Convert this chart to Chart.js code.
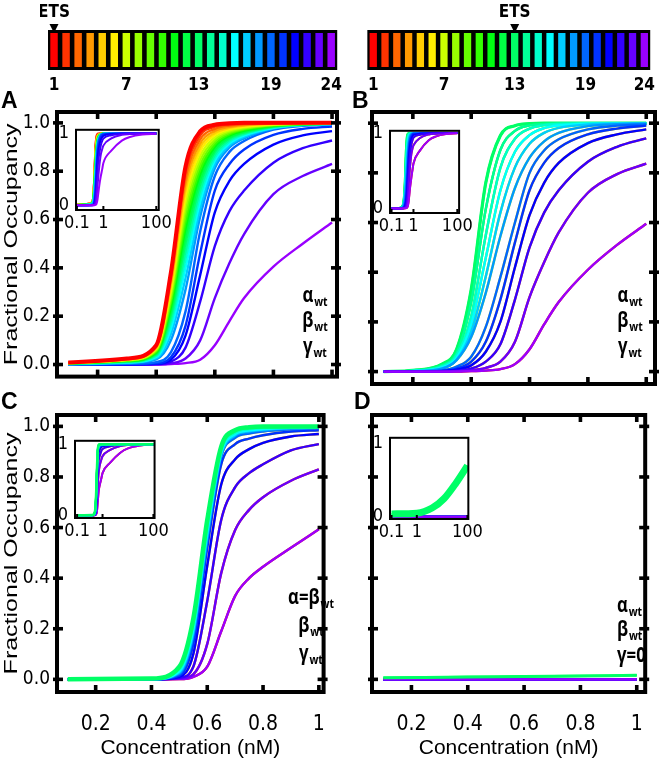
<!DOCTYPE html>
<html>
<head>
<meta charset="utf-8">
<script src="https://cdn.jsdelivr.net/npm/chart.js@4.4.1/dist/chart.umd.min.js"></script>
<style>
html,body{margin:0;padding:0;background:#ffffff;}
body{position:relative;width:663px;height:766px;overflow:hidden;}
canvas{position:absolute;display:block;}
</style>
</head>
<body>
<canvas id="mA"></canvas><canvas id="mB"></canvas><canvas id="mC"></canvas><canvas id="mD"></canvas>
<canvas id="cbA"></canvas><canvas id="cbB"></canvas>
<canvas id="iA"></canvas><canvas id="iB"></canvas><canvas id="iC"></canvas><canvas id="iD"></canvas>
<script>
// ---------------- data ----------------
const SITE_LABELS = ['1','2','3','4','5','6','7','8','9','10','11','12','13','14','15','16','17','18','19','20','21','22','23','24'];
const COLORS = ['#ff0000','#ff3300','#ff6600','#ff9900','#ffcc00','#ffee00','#ccff00','#99ff00','#66ff00','#33ff00','#00ff11','#00ff44','#00ff66','#00ff99','#00ffcc','#00ffff','#00ccff','#0099ff','#0066ff','#0033ff','#0000ff','#3300ff','#6600ff','#9900ff'];
const BAR_HEIGHTS = [1,1,1,1,1,1,1,1,1,1,1,1,1,1,1,1,1,1,1,1,1,1,1,1];
const BAR_TICK_LABELS = ['1','7','13','19','24'];
const ETS_A = 1;
const ETS_B = 13;

const Y_TICKS = [0, 0.2, 0.4, 0.6, 0.8, 1.0];
const Y_TICK_LABELS = ['0.0','0.2','0.4','0.6','0.8','1.0'];
const X_TICKS = [0.2, 0.4, 0.6, 0.8, 1.0];
const X_TICK_LABELS = ['0.2','0.4','0.6','0.8','1'];
const INSET_X_TICKS = [0.1, 1, 100];
const INSET_X_LABELS = ['0.1','1','100'];
const INSET_Y_TICKS = [0, 1];
const INSET_Y_LABELS = ['0','1'];
const X_TITLE = 'Concentration (nM)';
const Y_TITLE = 'Fractional Occupancy';

// Panel A: ETS at site 1, one row per site 1..24
const X_A = [0.1, 0.3, 0.4, 0.45, 0.5, 0.55, 0.6, 0.65, 0.7, 0.8, 0.9, 1.0];
const A_VALUES = [
  [0.008,0.025,0.08,0.38,0.82,0.965,0.992,0.998,1,1,1,1],
  [0.008,0.024,0.077,0.367,0.796,0.948,0.984,0.993,0.997,0.999,1,1],
  [0.007,0.023,0.074,0.354,0.772,0.932,0.975,0.989,0.994,0.998,0.999,1],
  [0.007,0.022,0.072,0.34,0.748,0.915,0.967,0.984,0.991,0.997,0.999,0.999],
  [0.007,0.021,0.069,0.327,0.724,0.899,0.958,0.979,0.988,0.996,0.998,0.999],
  [0.006,0.02,0.066,0.314,0.7,0.882,0.95,0.974,0.985,0.994,0.998,0.999],
  [0.006,0.019,0.063,0.299,0.673,0.863,0.94,0.969,0.982,0.993,0.997,0.999],
  [0.006,0.018,0.06,0.284,0.646,0.845,0.931,0.964,0.978,0.992,0.997,0.998],
  [0.005,0.017,0.057,0.269,0.619,0.826,0.921,0.958,0.975,0.991,0.996,0.998],
  [0.005,0.016,0.053,0.255,0.592,0.807,0.911,0.953,0.972,0.989,0.995,0.998],
  [0.005,0.015,0.05,0.238,0.562,0.787,0.901,0.947,0.968,0.988,0.995,0.997],
  [0.004,0.014,0.046,0.222,0.532,0.766,0.89,0.941,0.964,0.987,0.994,0.997],
  [0.004,0.013,0.043,0.205,0.502,0.745,0.88,0.935,0.96,0.985,0.994,0.997],
  [0.003,0.011,0.039,0.187,0.469,0.722,0.868,0.929,0.956,0.984,0.993,0.996],
  [0.003,0.01,0.035,0.169,0.436,0.699,0.856,0.922,0.952,0.982,0.992,0.996],
  [0.002,0.009,0.031,0.149,0.4,0.674,0.844,0.915,0.948,0.98,0.992,0.996],
  [0.002,0.008,0.026,0.126,0.358,0.645,0.829,0.907,0.942,0.978,0.991,0.995],
  [0.001,0.006,0.021,0.1,0.31,0.612,0.812,0.898,0.936,0.976,0.99,0.995],
  [0,0.003,0.01,0.05,0.22,0.55,0.78,0.88,0.925,0.972,0.988,0.994],
  [0,0.002,0.005,0.03,0.16,0.46,0.72,0.83,0.89,0.95,0.975,0.985],
  [0,0.001,0.003,0.02,0.12,0.37,0.63,0.76,0.83,0.91,0.948,0.966],
  [0,0,0.002,0.012,0.07,0.26,0.49,0.635,0.72,0.835,0.895,0.927],
  [0,0,0.001,0.005,0.025,0.1,0.275,0.42,0.54,0.705,0.78,0.83],
  [0,0,0,0.002,0.006,0.02,0.08,0.18,0.275,0.405,0.5,0.588]
];

// Panel B: ETS at site 13, rows for sites 13..24 (sites 12..1 share the mirrored row)
const X_B = [0.1, 0.2, 0.3, 0.35, 0.4, 0.45, 0.5, 0.55, 0.6, 0.65, 0.7, 0.8, 0.9, 1.0];
const B_VALUES = [
  [0,0.005,0.03,0.09,0.33,0.76,0.95,0.99,0.998,1,1,1,1,1],
  [0,0.004,0.025,0.075,0.28,0.654,0.892,0.969,0.991,0.997,0.999,1,1,1],
  [0,0.003,0.021,0.065,0.222,0.549,0.82,0.937,0.978,0.992,0.997,0.999,1,1],
  [0,0.003,0.017,0.055,0.19,0.458,0.729,0.885,0.952,0.98,0.991,0.998,0.999,0.999],
  [0,0.002,0.013,0.048,0.16,0.383,0.64,0.822,0.917,0.961,0.981,0.995,0.998,0.999],
  [0,0.001,0.012,0.046,0.139,0.317,0.545,0.739,0.861,0.927,0.961,0.988,0.996,0.998],
  [0,0,0.005,0.02,0.06,0.18,0.38,0.6,0.8,0.89,0.935,0.975,0.99,0.995],
  [0,0,0.003,0.012,0.04,0.12,0.29,0.52,0.73,0.84,0.9,0.955,0.978,0.99],
  [0,0,0.002,0.008,0.025,0.08,0.2,0.42,0.63,0.76,0.84,0.92,0.955,0.975],
  [0,0,0.001,0.004,0.012,0.04,0.11,0.29,0.5,0.64,0.73,0.845,0.905,0.939],
  [0,0,0,0.002,0.005,0.015,0.04,0.12,0.3,0.44,0.56,0.72,0.795,0.837],
  [0,0,0,0,0.002,0.004,0.01,0.03,0.09,0.19,0.28,0.41,0.51,0.595]
];

// Panel C: alpha = beta_wt, rows for sites 13..24
const X_C = [0.1, 0.4, 0.5, 0.55, 0.6, 0.65, 0.7, 0.75, 0.8, 0.9, 1.0];
const C_VALUES = [
  [0,0.003,0.05,0.24,0.63,0.92,0.985,0.997,1,1,1],
  [0,0.002,0.044,0.226,0.614,0.912,0.98,0.993,0.996,0.998,0.999],
  [0,0.002,0.038,0.212,0.598,0.904,0.975,0.988,0.993,0.996,0.997],
  [0,0.001,0.032,0.198,0.582,0.896,0.97,0.984,0.989,0.994,0.996],
  [0,0.001,0.028,0.188,0.57,0.89,0.966,0.981,0.987,0.993,0.995],
  [0,0,0.024,0.178,0.56,0.885,0.963,0.978,0.984,0.991,0.994],
  [0,0,0.02,0.17,0.55,0.88,0.955,0.972,0.98,0.988,0.993],
  [0,0,0.015,0.14,0.52,0.85,0.93,0.952,0.965,0.98,0.985],
  [0,0,0.01,0.1,0.45,0.77,0.87,0.91,0.935,0.96,0.97],
  [0,0,0.006,0.05,0.31,0.63,0.76,0.815,0.85,0.905,0.93],
  [0,0,0.003,0.02,0.14,0.42,0.59,0.67,0.72,0.785,0.83],
  [0,0,0.001,0.01,0.05,0.19,0.33,0.4,0.445,0.52,0.593]
];

// Panel D: gamma = 0, rows for sites 13..24
const X_D = [0.1, 0.4, 0.7, 1.0];
const D_VALUES = [
  [0.006,0.009,0.012,0.016],
  [0,0,0,0],[0,0,0,0],[0,0,0,0],[0,0,0,0],[0,0,0,0],[0,0,0,0],
  [0,0,0,0],[0,0,0,0],[0,0,0,0],[0,0,0,0],[0,0,0,0]
];

// Inset extensions beyond 1 nM (log axis up to 100 nM)
const EXT_X = [2, 5, 10, 30, 100];
const EXT_A = [
  [1,1,1,1,1],[1,1,1,1,1],[1,1,1,1,1],[1,1,1,1,1],[1,1,1,1,1],[1,1,1,1,1],
  [1,1,1,1,1],[1,1,1,1,1],[1,1,1,1,1],[1,1,1,1,1],[1,1,1,1,1],[1,1,1,1,1],
  [1,1,1,1,1],[1,1,1,1,1],[1,1,1,1,1],[1,1,1,1,1],[1,1,1,1,1],[1,1,1,1,1],
  [0.998,1,1,1,1],
  [0.995,0.999,1,1,1],
  [0.99,0.998,0.999,1,1],
  [0.975,0.994,0.998,1,1],
  [0.93,0.98,0.99,0.997,1],
  [0.76,0.9,0.95,0.985,0.995]
];
const EXT_B = [
  [1,1,1,1,1],[1,1,1,1,1],[1,1,1,1,1],[1,1,1,1,1],[1,1,1,1,1],[1,1,1,1,1],
  [0.998,1,1,1,1],
  [0.996,0.999,1,1,1],
  [0.99,0.998,0.999,1,1],
  [0.978,0.995,0.998,1,1],
  [0.935,0.982,0.992,0.998,1],
  [0.77,0.905,0.952,0.986,0.996]
];
const EXT_C = [
  [1,1,1,1,1],[1,1,1,1,1],[1,1,1,1,1],[1,1,1,1,1],[1,1,1,1,1],[1,1,1,1,1],
  [0.997,1,1,1,1],
  [0.994,0.999,1,1,1],
  [0.988,0.997,0.999,1,1],
  [0.97,0.993,0.997,1,1],
  [0.92,0.975,0.99,0.997,1],
  [0.74,0.88,0.94,0.98,0.995]
];
const X_D_INSET = [0.1, 1, 4, 12, 35, 100];
const D_INSET_VALUES = [
  [0.04,0.05,0.12,0.25,0.46,0.70],
  [0,0,0,0,0,0],[0,0,0,0,0,0],[0,0,0,0,0,0],[0,0,0,0,0,0],[0,0,0,0,0,0],[0,0,0,0,0,0],
  [0,0,0,0,0,0],[0,0,0,0,0,0],[0,0,0,0,0,0],[0,0,0,0,0,0],[0,0,0,0,0,0]
];

// which data row each site 1..24 uses
const ROW_A = [0,1,2,3,4,5,6,7,8,9,10,11,12,13,14,15,16,17,18,19,20,21,22,23];
const PAIR_ROW = [11,10,9,8,7,6,5,4,3,2,1,0,0,1,2,3,4,5,6,7,8,9,10,11];

const NOTE_A = [['α','wt'],['β','wt'],['γ','wt']];
const NOTE_C = [['α=β','wt'],['β','wt'],['γ','wt']];
const NOTE_D = [['α','wt'],['β','wt'],['γ=0','']];

// ---------------- helpers ----------------
const NARROW = "'Liberation Sans Narrow','Arial Narrow','DejaVu Sans Condensed',sans-serif";
const SANS = "'Liberation Sans',Arial,sans-serif";
const GREEK = "'Open Sans','Noto Sans',sans-serif";
const NOTE_SQUEEZE = 0.8;

function makeBox(id, box){
  const c = document.getElementById(id);
  c.width = box.w; c.height = box.h;
  c.style.left = box.x + 'px'; c.style.top = box.y + 'px';
  c.style.width = box.w + 'px'; c.style.height = box.h + 'px';
  return c;
}
function pads(box, area, yw, xh){
  return {left: area.l - box.x - yw, top: area.t - box.y,
          right: box.x + box.w - area.r, bottom: box.y + box.h - area.b - xh};
}
function siteDatasets(xs, rows, rowOf, orderFn, widthFn){
  const ds = [];
  for (let s = 1; s <= 24; s++){
    const row = rows[rowOf[s-1]];
    ds.push({
      label: 'Site ' + s,
      data: xs.map((x, i) => ({x: x, y: row[i]})),
      borderColor: COLORS[s-1], backgroundColor: COLORS[s-1],
      borderWidth: widthFn(s), pointRadius: 0,
      cubicInterpolationMode: 'monotone', fill: false,
      order: orderFn(s)
    });
  }
  return ds;
}

function mainPanel(cfg){
  const c = makeBox(cfg.id, cfg.box);
  const bx = cfg.box.x, by = cfg.box.y;
  return new Chart(c, {
    type: 'line',
    data: {datasets: siteDatasets(cfg.x, cfg.rows, cfg.rowOf, cfg.order, s => s === cfg.ets ? cfg.etsWidth : 2.4)},
    options: {
      responsive: false, animation: false, events: [], devicePixelRatio: 1,
      layout: {padding: pads(cfg.box, cfg.area, cfg.yw, cfg.xh)},
      plugins: {legend: {display: false}, tooltip: {enabled: false}},
      scales: {
        x: {type: 'linear', min: cfg.xr[0], max: cfg.xr[1], bounds: 'data',
            grid: {display: false, drawTicks: false}, border: {display: false},
            afterBuildTicks: s => { s.ticks = X_TICKS.map(v => ({value: v})); },
            afterFit: s => { s.height = cfg.xh; },
            ticks: {display: cfg.xLabels, autoSkip: false, maxRotation: 0, padding: 20, color: '#000',
                    font: {family: NARROW, size: 21}, callback: (v, i) => X_TICK_LABELS[i]},
            title: {display: cfg.xLabels, text: X_TITLE, color: '#000',
                    font: {family: SANS, size: 21}, padding: {top: 0, bottom: 5}}},
        y: {type: 'linear', min: cfg.yr[0], max: cfg.yr[1], bounds: 'data',
            grid: {display: false, drawTicks: false}, border: {display: false},
            afterBuildTicks: s => { s.ticks = Y_TICKS.map(v => ({value: v})); },
            afterFit: s => { s.width = cfg.yw; },
            ticks: {display: cfg.yLabels, autoSkip: false, padding: 7, color: '#000',
                    font: {family: NARROW, size: 19}, callback: (v, i) => Y_TICK_LABELS[i]}}
      }
    },
    plugins: [{
      id: 'deco',
      afterDraw(chart){
        const ctx = chart.ctx, a = chart.chartArea, xs = chart.scales.x, ys = chart.scales.y;
        ctx.save();
        ctx.strokeStyle = '#000'; ctx.lineWidth = 4;
        ctx.strokeRect(a.left, a.top, a.right - a.left, a.bottom - a.top);
        ctx.fillStyle = '#000';
        X_TICKS.forEach(v => { const p = xs.getPixelForValue(v);
          ctx.fillRect(p - 1.8, a.top, 3.6, 7); ctx.fillRect(p - 1.8, a.bottom - 7, 3.6, 7); });
        Y_TICKS.forEach(v => { const p = ys.getPixelForValue(v);
          ctx.fillRect(a.left - 4, p - 1.8, 10, 3.6); ctx.fillRect(a.right - 6, p - 1.8, 10, 3.6); });
        if (cfg.yTitle){
          ctx.save();
          ctx.translate(12 - bx, (a.top + a.bottom) / 2);
          ctx.rotate(-Math.PI / 2);
          ctx.scale(1, 0.72);
          ctx.font = '25px ' + SANS;
          ctx.textAlign = 'center'; ctx.textBaseline = 'middle';
          ctx.fillText(Y_TITLE, 0, 0);
          ctx.restore();
        }
        // parameter note (bold Greek with "wt" subscript, slightly condensed)
        const MF = 'bold 21px ' + GREEK, SF = 'bold 13px ' + GREEK;
        cfg.note.forEach((ln, i) => {
          ctx.font = MF; const w1 = ctx.measureText(ln[0]).width;
          ctx.font = SF; const w2 = ln[1] ? ctx.measureText(ln[1]).width : 0;
          const tw = (w1 + w2 + 1) * NOTE_SQUEEZE;
          const x0 = (cfg.noteAlign === 'left' ? cfg.noteX : cfg.noteX - tw / 2) - bx;
          const yb = cfg.noteY[i] - by;
          ctx.save();
          ctx.translate(x0, yb); ctx.scale(NOTE_SQUEEZE, 1);
          ctx.textAlign = 'left'; ctx.textBaseline = 'alphabetic';
          ctx.font = MF; ctx.fillText(ln[0], 0, 0);
          if (ln[1]){ ctx.font = SF; ctx.fillText(ln[1], w1 + 1, 4); }
          ctx.restore();
        });
        // panel letter
        ctx.font = 'bold 23px ' + SANS; ctx.textAlign = 'left'; ctx.textBaseline = 'alphabetic';
        ctx.fillText(cfg.letter, cfg.letterPos[0] - bx, cfg.letterPos[1] - by);
        ctx.restore();
      }
    }]
  });
}

function insetPanel(cfg){
  const c = makeBox(cfg.id, cfg.box);
  return new Chart(c, {
    type: 'line',
    data: {datasets: siteDatasets(cfg.x, cfg.rows, cfg.rowOf, cfg.order, s => s === cfg.ets ? cfg.etsWidth : 2)},
    options: {
      responsive: false, animation: false, events: [], devicePixelRatio: 1,
      layout: {padding: pads(cfg.box, cfg.area, cfg.yw, cfg.xh)},
      plugins: {legend: {display: false}, tooltip: {enabled: false}},
      scales: {
        x: {type: 'logarithmic', min: cfg.xr[0], max: cfg.xr[1], bounds: 'data',
            grid: {display: false, drawTicks: false}, border: {display: false},
            afterBuildTicks: s => { s.ticks = INSET_X_TICKS.map(v => ({value: v})); },
            afterFit: s => { s.height = cfg.xh; },
            ticks: {autoSkip: false, maxRotation: 0, padding: 3, color: '#000',
                    font: {family: NARROW, size: 18}, callback: (v, i) => INSET_X_LABELS[i]}},
        y: {type: 'linear', min: cfg.yr[0], max: cfg.yr[1], bounds: 'data',
            grid: {display: false, drawTicks: false}, border: {display: false},
            afterBuildTicks: s => { s.ticks = INSET_Y_TICKS.map(v => ({value: v})); },
            afterFit: s => { s.width = cfg.yw; },
            ticks: {autoSkip: false, padding: 7, color: '#000',
                    font: {family: NARROW, size: 18}, callback: (v, i) => INSET_Y_LABELS[i]}}
      }
    },
    plugins: [{
      id: 'insetDeco',
      beforeDatasetsDraw(chart){
        const ctx = chart.ctx, a = chart.chartArea;
        ctx.save(); ctx.fillStyle = '#fff';
        ctx.fillRect(a.left, a.top, a.right - a.left, a.bottom - a.top); ctx.restore();
      },
      afterDraw(chart){
        const ctx = chart.ctx, a = chart.chartArea, xs = chart.scales.x;
        ctx.save();
        ctx.strokeStyle = '#000'; ctx.lineWidth = 2;
        ctx.strokeRect(a.left, a.top, a.right - a.left, a.bottom - a.top);
        ctx.fillStyle = '#000';
        INSET_X_TICKS.forEach(v => { const p = xs.getPixelForValue(v); ctx.fillRect(p - 1, a.bottom - 4, 2, 4); });
        ctx.restore();
      }
    }]
  });
}

function colorBar(cfg){
  const c = makeBox(cfg.id, cfg.box);
  return new Chart(c, {
    type: 'bar',
    data: {labels: SITE_LABELS, datasets: [{data: BAR_HEIGHTS, backgroundColor: COLORS, borderWidth: 0,
           barPercentage: 0.62, categoryPercentage: 1}]},
    options: {
      responsive: false, animation: false, events: [], devicePixelRatio: 1,
      layout: {padding: pads(cfg.box, cfg.area, 0, cfg.xh)},
      plugins: {legend: {display: false}, tooltip: {enabled: false}},
      scales: {
        x: {grid: {display: false, drawTicks: false}, border: {display: false},
            afterFit: s => { s.height = cfg.xh; },
            ticks: {autoSkip: false, maxRotation: 0, padding: 8, color: '#000',
                    font: {family: NARROW, size: 17, weight: 'bold'},
                    callback: (v, i) => BAR_TICK_LABELS.indexOf(SITE_LABELS[i]) >= 0 ? SITE_LABELS[i] : ''}},
        y: {display: false, min: 0, max: 1}
      }
    },
    plugins: [{
      id: 'stripDeco',
      beforeDatasetsDraw(chart){
        const ctx = chart.ctx, a = chart.chartArea;
        ctx.save(); ctx.fillStyle = '#000';
        ctx.fillRect(a.left, a.top - 3, a.right - a.left, a.bottom - a.top + 6); ctx.restore();
      },
      afterDraw(chart){
        const ctx = chart.ctx;
        const px = chart.scales.x.getPixelForValue(cfg.ets - 1);
        ctx.save(); ctx.fillStyle = '#000';
        ctx.font = 'bold 17px ' + NARROW; ctx.textAlign = 'center'; ctx.textBaseline = 'middle';
        ctx.fillText('ETS', px, 13);
        ctx.beginPath(); ctx.moveTo(px - 4.5, 24); ctx.lineTo(px + 4.5, 24); ctx.lineTo(px, 33); ctx.closePath(); ctx.fill();
        ctx.restore();
      }
    }]
  });
}

// ---------------- build ----------------
const XR_LEFT = [0.0614, 1.017];
const XR_RIGHT = [0.06, 1.03];
const YR_MAIN = [-0.05, 1.045];
const ordA = s => s;
const ordRev = s => 25 - s;
const ordC = s => (s >= 13 ? s - 13 : 100 + s);
const ordD = s => (s === 13 ? 0 : (s >= 14 ? 25 - s : 100 + s));

colorBar({id: 'cbA', box: {x: 40, y: 0, w: 310, h: 100}, area: {l: 48, t: 33, r: 342, b: 67}, xh: 33, ets: ETS_A});
colorBar({id: 'cbB', box: {x: 360, y: 0, w: 303, h: 100}, area: {l: 367, t: 33, r: 661, b: 67}, xh: 33, ets: ETS_B});

mainPanel({id: 'mA', box: {x: 0, y: 80, w: 345, h: 315}, area: {l: 57, t: 112, r: 337, b: 384}, yw: 57, xh: 0,
  xr: XR_LEFT, yr: YR_MAIN, x: X_A, rows: A_VALUES, rowOf: ROW_A, order: ordA, ets: ETS_A, etsWidth: 4,
  xLabels: false, yLabels: true, yTitle: true, note: NOTE_A, noteX: 315, noteY: [302, 327, 353], letter: 'A', letterPos: [1, 108]});
mainPanel({id: 'mB', box: {x: 345, y: 80, w: 318, h: 315}, area: {l: 372, t: 112, r: 655, b: 384}, yw: 0, xh: 0,
  xr: XR_RIGHT, yr: YR_MAIN, x: X_B, rows: B_VALUES, rowOf: PAIR_ROW, order: ordRev, ets: ETS_B, etsWidth: 3.2,
  xLabels: false, yLabels: false, yTitle: false, note: NOTE_A, noteX: 630, noteY: [302, 327, 353], letter: 'B', letterPos: [352, 108]});
mainPanel({id: 'mC', box: {x: 0, y: 388, w: 345, h: 378}, area: {l: 57, t: 415, r: 337, b: 692}, yw: 57, xh: 74,
  xr: XR_LEFT, yr: YR_MAIN, x: X_C, rows: C_VALUES, rowOf: PAIR_ROW, order: ordC, ets: ETS_B, etsWidth: 4.5,
  xLabels: true, yLabels: true, yTitle: true, note: NOTE_C, noteX: 311, noteY: [604, 632, 660], letter: 'C', letterPos: [1, 409]});
mainPanel({id: 'mD', box: {x: 345, y: 388, w: 318, h: 378}, area: {l: 372, t: 415, r: 655, b: 692}, yw: 0, xh: 74,
  xr: XR_RIGHT, yr: YR_MAIN, x: X_D, rows: D_VALUES, rowOf: PAIR_ROW, order: ordD, ets: ETS_B, etsWidth: 3,
  xLabels: true, yLabels: false, yTitle: false, note: NOTE_D, noteX: 617, noteAlign: 'left', noteY: [612, 636, 662], letter: 'D', letterPos: [354, 409]});

insetPanel({id: 'iA', box: {x: 45, y: 112, w: 130, h: 128}, area: {l: 76, t: 122, r: 166, b: 210}, yw: 31, xh: 30,
  xr: [0.0923, 124], yr: [-0.065, 1.05], x: X_A.concat(EXT_X), rows: A_VALUES.map((r, i) => r.concat(EXT_A[i])),
  rowOf: ROW_A, order: ordRev, ets: ETS_A, etsWidth: 2});
insetPanel({id: 'iB', box: {x: 359, y: 113, w: 117, h: 130}, area: {l: 390, t: 123, r: 467, b: 213}, yw: 31, xh: 30,
  xr: [0.085, 120.8], yr: [-0.06, 1.03], x: X_B.concat(EXT_X), rows: B_VALUES.map((r, i) => r.concat(EXT_B[i])),
  rowOf: PAIR_ROW, order: ordRev, ets: ETS_B, etsWidth: 2});
insetPanel({id: 'iC', box: {x: 44, y: 423, w: 128, h: 125}, area: {l: 75, t: 433, r: 163, b: 518}, yw: 31, xh: 30,
  xr: [0.0828, 111], yr: [-0.038, 1.047], x: X_C.concat(EXT_X), rows: C_VALUES.map((r, i) => r.concat(EXT_C[i])),
  rowOf: PAIR_ROW, order: ordC, ets: ETS_B, etsWidth: 2.5});
insetPanel({id: 'iD', box: {x: 359, y: 420, w: 127, h: 129}, area: {l: 390, t: 430, r: 477, b: 519}, yw: 31, xh: 30,
  xr: [0.087, 108.5], yr: [-0.03, 1.08], x: X_D_INSET, rows: D_INSET_VALUES,
  rowOf: PAIR_ROW, order: ordD, ets: ETS_B, etsWidth: 7});
</script>
</body>
</html>
